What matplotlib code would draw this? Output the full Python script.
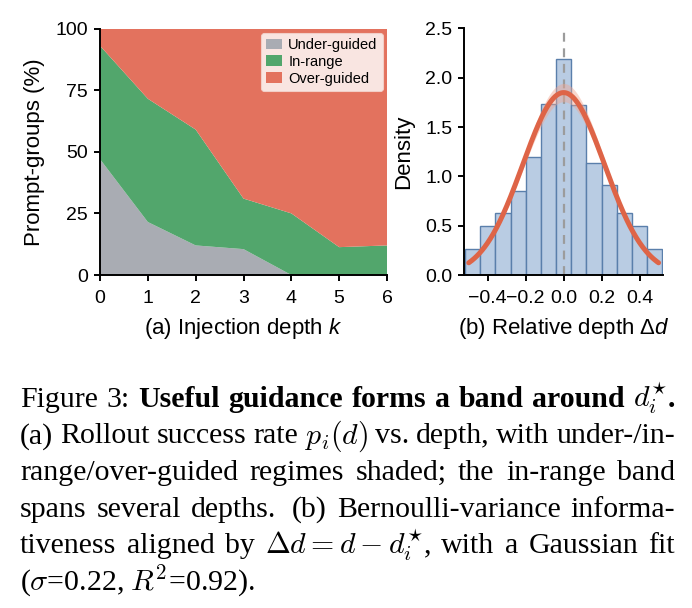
import numpy as np
import matplotlib
matplotlib.use("Agg")
import matplotlib.pyplot as plt
from matplotlib.patches import Patch

# ---------------- data ----------------
depth_k = [0, 1, 2, 3, 4, 5, 6]
under_guided = [47.0, 21.5, 12.0, 10.5, 0.0, 0.0, 0.0]
in_range = [46.0, 50.0, 47.0, 20.5, 25.0, 11.3, 12.0]
over_guided = [7.0, 28.5, 41.0, 69.0, 75.0, 88.7, 88.0]
regime_labels = ["Under-guided", "In-range", "Over-guided"]

hist_first_edge = -0.52
hist_bin_width = 0.08
hist_density = [0.26, 0.50, 0.63, 0.85, 1.20, 1.73, 2.19, 1.72, 1.14, 0.91, 0.63, 0.50, 0.26]
fit_amp, fit_mu, fit_sigma = 1.85, 0.0, 0.215
fit_range = (-0.5, 0.5)
fit_band_rel = 0.05

# ---------------- style ----------------
plt.rcParams['font.family'] = ['Liberation Sans', 'DejaVu Sans']
plt.rcParams['mathtext.fontset'] = 'custom'
plt.rcParams['mathtext.rm'] = 'Liberation Sans'
plt.rcParams['mathtext.it'] = 'Liberation Sans:italic'
plt.rcParams['axes.unicode_minus'] = True

C_GRAY = '#a9acb3'
C_GREEN = '#52a66c'
C_RED = '#e3725e'
C_BAR = '#b9cce3'
C_BAR_EDGE = '#5a7fab'
C_FIT = '#de6447'

W, H = 692, 608
fig = plt.figure(figsize=(W / 100, H / 100), dpi=100)


def ax_rect(l, t, r, b):
    return [l / W, 1 - b / H, (r - l) / W, (b - t) / H]


TICK_FS = 14
LABEL_FS = 16

# ---------------- (a) stacked area ----------------
ax1 = fig.add_axes(ax_rect(100, 28.5, 387, 275))
ax1.stackplot(depth_k, under_guided, in_range, over_guided,
              colors=[C_GRAY, C_GREEN, C_RED], linewidth=0)
ax1.set_xlim(0, 6)
ax1.set_ylim(0, 100)
ax1.set_xticks(depth_k)
ax1.set_yticks([0, 25, 50, 75, 100])
ax1.set_xlabel("(a) Injection depth $k$", fontsize=LABEL_FS)
ax1.set_ylabel("Prompt-groups (%)", fontsize=LABEL_FS)
handles = [Patch(facecolor=c, edgecolor='none') for c in [C_GRAY, C_GREEN, C_RED]]
leg = ax1.legend(handles, regime_labels, loc='upper right', fontsize=10.5,
                 frameon=True, framealpha=0.82, edgecolor='#f4d6d0', fancybox=True,
                 borderaxespad=0.3, handlelength=1.1, handleheight=0.75,
                 handletextpad=0.4, labelspacing=0.2, borderpad=0.35)
leg.get_frame().set_linewidth(0.8)

# ---------------- (b) histogram + Gaussian ----------------
ax2 = fig.add_axes(ax_rect(464, 28.5, 663.3, 275))
lefts = hist_first_edge + hist_bin_width * np.arange(len(hist_density))
ax2.bar(lefts, hist_density, width=hist_bin_width, align='edge',
        color=C_BAR, edgecolor=C_BAR_EDGE, linewidth=1.0, zorder=2)
ax2.axvline(0.0, color='#9c9c9c', linestyle=(0, (4, 3)), linewidth=1.6, zorder=3)
xs = np.linspace(fit_range[0], fit_range[1], 300)
ys = fit_amp * np.exp(-0.5 * ((xs - fit_mu) / fit_sigma) ** 2)
ax2.fill_between(xs, ys * (1 - fit_band_rel), ys * (1 + fit_band_rel),
                 color='#f1a58f', alpha=0.45, linewidth=0, zorder=4)
ax2.plot(xs, ys, color=C_FIT, linewidth=3.6, solid_capstyle='round', zorder=5)
ax2.set_xlim(-0.525, 0.525)
ax2.set_ylim(0, 2.5)
ax2.set_xticks([-0.4, -0.2, 0.0, 0.2, 0.4])
ax2.set_xticklabels(['\u22120.4', '\u22120.2', '0.0', '0.2', '0.4'])
ax2.set_yticks([0.0, 0.5, 1.0, 1.5, 2.0, 2.5])
ax2.set_yticklabels(['0.0', '0.5', '1.0', '1.5', '2.0', '2.5'])
ax2.set_xlabel(r"(b) Relative depth $\mathit{\Delta d}$", fontsize=LABEL_FS)
ax2.set_ylabel("Density", fontsize=LABEL_FS)

for ax in (ax1, ax2):
    for s in ('top', 'right'):
        ax.spines[s].set_visible(False)
    for s in ('left', 'bottom'):
        ax.spines[s].set_linewidth(1.4)
        ax.spines[s].set_zorder(6)
    ax.tick_params(axis='both', labelsize=TICK_FS, width=1.4, length=4.5, pad=4,
                   direction='out')
    ax.tick_params(axis='x', pad=6)

ax1.yaxis.set_label_coords(-0.19, 0.5)
ax1.xaxis.set_label_coords(0.5, -0.165)
ax2.yaxis.set_label_coords(-0.25, 0.5)
ax2.xaxis.set_label_coords(0.5, -0.165)

# ---------------- caption ----------------
cap_kw = dict(family='Liberation Serif', size=21.5, math_fontfamily='cm')
N = {}
B = {'weight': 'bold'}
caption_lines = [
    ([[("Figure", N)], [("3:", N)], [("Useful", B)], [("guidance", B)], [("forms", B)],
      [("a", B)], [("band", B)], [("around", B)], [(r"$d_i^{\star}$", N), (".", B)]], True, None),
    ([[("(a)", N)], [("Rollout", N)], [("success", N)], [("rate", N)], [(r"$p_i(d)$", N)],
      [("vs.", N)], [("depth,", N)], [("with", N)], [("under-/in-", N)]], True, None),
    ([[("range/over-guided", N)], [("regimes", N)], [("shaded;", N)], [("the", N)],
      [("in-range", N)], [("band", N)]], True, None),
    ([[("spans", N)], [("several", N)], [("depths.", N)], [("(b)", N)],
      [("Bernoulli-variance", N)], [("informa-", N)]], True, [1, 1, 1.6, 1, 1]),
    ([[("tiveness", N)], [("aligned", N)], [("by", N)], [(r"$\Delta d = d - d_i^{\star}$,", N)],
      [("with", N)], [("a", N)], [("Gaussian", N)], [("fit", N)]], True, None),
    ([[(r"($\sigma$=0.22,", N)], [(r"$R^2$=0.92).", N)]], False, None),
]
baselines = [406.7, 443.3, 480.0, 516.7, 553.3, 590.0]
cap_left, cap_right = 20, 675

renderer = fig.canvas.get_renderer()
for (words, justify, gw), yb in zip(caption_lines, baselines):
    y = 1 - yb / H
    word_arts, widths = [], []
    for word in words:
        arts, wsum = [], 0.0
        for s, kw in word:
            t = fig.text(0, y, s, va='baseline', ha='left', **cap_kw, **kw)
            w = t.get_window_extent(renderer).width
            arts.append((t, w))
            wsum += w
        word_arts.append(arts)
        widths.append(wsum)
    n = len(words)
    weights = gw if gw else [1] * (n - 1)
    if justify:
        gap = (cap_right - cap_left - sum(widths)) / sum(weights)
    else:
        gap = 6.0
    x = cap_left
    for j, arts in enumerate(word_arts):
        for t, w in arts:
            t.set_x(x / W)
            x += w
        if j < n - 1:
            x += gap * weights[j]

fig.savefig("out.png", dpi=100)
